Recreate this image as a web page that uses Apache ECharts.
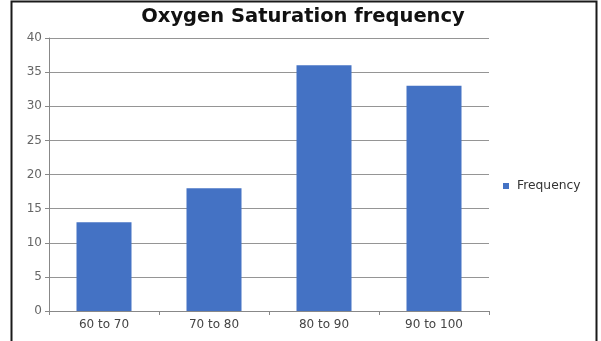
<!DOCTYPE html>
<html>
<head>
<meta charset="utf-8">
<script src="https://cdn.jsdelivr.net/npm/echarts@6/dist/echarts.min.js"></script>
<style>
  html, body { margin: 0; padding: 0; background: #ffffff; }
  #chart { width: 601px; height: 341px; }
</style>
</head>
<body>
<div id="chart"></div>
<script>
// Oxygen saturation ranges and how many readings fell in each
const categories = ['60 to 70', '70 to 80', '80 to 90', '90 to 100'];
const frequency = [13, 18, 36, 33];
const seriesName = 'Frequency';
const chartTitle = 'Oxygen Saturation frequency';

const chart = echarts.init(document.getElementById('chart'), null, { renderer: 'canvas' });

chart.setOption({
  animation: false,
  backgroundColor: '#ffffff',
  title: {
    text: chartTitle,
    left: 298,
    textAlign: 'center',
    top: 2,
    textStyle: {
      fontFamily: 'DejaVu Sans',
      fontWeight: 'bold',
      fontSize: 19.5,
      color: '#111111'
    }
  },
  legend: {
    data: [seriesName],
    orient: 'vertical',
    left: 498,
    top: 175,
    itemWidth: 6,
    itemHeight: 6,
    itemGap: 4,
    icon: 'rect',
    textStyle: {
      fontFamily: 'DejaVu Sans',
      fontSize: 12.3,
      color: '#333333',
      padding: [0, 0, 0, 3]
    }
  },
  grid: {
    left: 49,
    right: 112,
    top: 38,
    bottom: 30,
    containLabel: false
  },
  xAxis: {
    type: 'category',
    data: categories,
    axisLine: { show: true, lineStyle: { color: '#888888', width: 1 } },
    axisTick: { show: true, length: 4, alignWithLabel: false, lineStyle: { color: '#888888' } },
    axisLabel: {
      fontFamily: 'DejaVu Sans',
      fontSize: 12,
      color: '#444444',
      margin: 8
    },
    splitLine: { show: false }
  },
  yAxis: {
    type: 'value',
    min: 0,
    max: 40,
    interval: 5,
    axisLine: { show: true, lineStyle: { color: '#888888', width: 1 } },
    axisTick: { show: true, length: 4, lineStyle: { color: '#888888' } },
    axisLabel: {
      fontFamily: 'DejaVu Sans',
      fontSize: 12,
      color: '#666666',
      margin: 7
    },
    splitLine: { show: true, lineStyle: { color: '#959595', width: 1 } }
  },
  series: [{
    name: seriesName,
    type: 'bar',
    data: frequency,
    barWidth: '50%',
    itemStyle: { color: '#4472C4' }
  }],
  graphic: [{
    type: 'rect',
    shape: { x: 11.5, y: 1.5, width: 585, height: 345 },
    style: { fill: 'none', stroke: '#1a1a1a', lineWidth: 2 },
    silent: true
  }]
});
</script>
</body>
</html>
